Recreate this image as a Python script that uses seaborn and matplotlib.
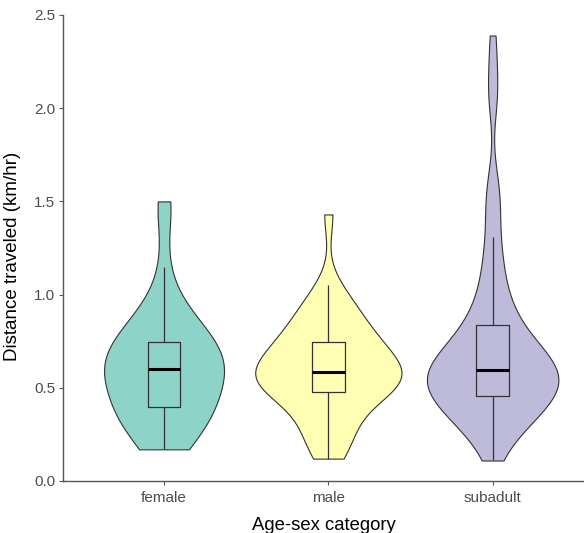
import numpy as np
import pandas as pd
import matplotlib
matplotlib.use("Agg")
import matplotlib.pyplot as plt
import seaborn as sns

categories = ["female", "male", "subadult"]
colors = ["#8DD3C7", "#FFFFB3", "#BEBADA"]

female = [0.17, 0.18, 0.21, 0.25, 0.28, 0.31, 0.33, 0.35, 0.37, 0.39,
          0.40, 0.42, 0.44, 0.46, 0.49, 0.52, 0.54, 0.56, 0.58, 0.60,
          0.60, 0.61, 0.62, 0.64, 0.66, 0.68, 0.70, 0.72, 0.73, 0.74,
          0.76, 0.79, 0.82, 0.85, 0.88, 0.92, 0.97, 1.15, 1.45, 1.50]
male = [0.12, 0.16, 0.21, 0.25, 0.29, 0.33, 0.37, 0.41, 0.44, 0.47,
        0.48, 0.49, 0.51, 0.52, 0.53, 0.54, 0.55, 0.56, 0.57, 0.58,
        0.59, 0.60, 0.62, 0.64, 0.66, 0.68, 0.70, 0.71, 0.73, 0.74,
        0.76, 0.79, 0.82, 0.85, 0.88, 0.91, 0.94, 0.98, 1.05, 1.43]
subadult = [0.11, 0.17, 0.22, 0.25, 0.27, 0.29, 0.31, 0.32, 0.33, 0.35,
            0.36, 0.37, 0.38, 0.39, 0.40, 0.41, 0.42, 0.43, 0.44, 0.45,
            0.46, 0.47, 0.47, 0.48, 0.49, 0.50, 0.50, 0.51, 0.52, 0.53,
            0.53, 0.54, 0.55, 0.56, 0.56, 0.57, 0.58, 0.58, 0.59, 0.59,
            0.60, 0.61, 0.62, 0.63, 0.63, 0.64, 0.65, 0.66, 0.67, 0.68,
            0.69, 0.70, 0.72, 0.73, 0.74, 0.75, 0.77, 0.79, 0.81, 0.83,
            0.85, 0.87, 0.89, 0.92, 0.96, 0.99, 1.03, 1.08, 1.13, 1.18,
            1.24, 1.31, 1.42, 1.48, 1.55, 1.62, 2.04, 2.09, 2.24, 2.39]
values = {"female": female, "male": male, "subadult": subadult}

yticks = [0.0, 0.5, 1.0, 1.5, 2.0, 2.5]
ytick_labels = ["0.0", "0.5", "1.0", "1.5", "2.0", "2.5"]

# styling: violin widths (fraction of category spacing) and kernel smoothing
vwidths = {"female": 0.73, "male": 0.89, "subadult": 0.80}
bw_adj = {"female": 1.3, "male": 1.3, "subadult": 1.25}


def nrd0(kde):
    # R's default bandwidth rule (bw.nrd0), expressed as a factor of the sample sd
    x = np.asarray(kde.dataset).ravel()
    sd = np.std(x, ddof=1)
    q75, q25 = np.percentile(x, [75, 25])
    lo = min(sd, (q75 - q25) / 1.34)
    bw = 0.9 * lo * len(x) ** (-0.2)
    return bw / sd


sns.set_style("white")
plt.rcParams["font.family"] = ["Liberation Sans", "DejaVu Sans"]

fig = plt.figure(figsize=(5.84, 5.33), dpi=100)
W, H = 584, 533
ax = fig.add_axes([63 / W, 1 - 481 / H, (584 - 63) / W, (481 - 15) / H])

for cat, col in zip(categories, colors):
    v = values[cat]
    sns.violinplot(x=[cat] * len(v), y=v, order=categories, color=col,
                   cut=0, density_norm="width", width=vwidths[cat], inner=None,
                   bw_method=nrd0, bw_adjust=bw_adj[cat], gridsize=512,
                   linewidth=0.8, linecolor="#333333", saturation=1, ax=ax)

df = pd.DataFrame({
    "cat": sum([[c] * len(values[c]) for c in categories], []),
    "dist": female + male + subadult,
})
sns.boxplot(data=df, x="cat", y="dist", order=categories, width=0.2, showfliers=False,
            showcaps=False, fill=False, color="#333333", linewidth=0.9, whis=1.5,
            medianprops=dict(color="black", linewidth=2.2), ax=ax)

ax.set_xlim(-0.615, 2.556)
ax.set_ylim(0, 2.5)
ax.set_yticks(yticks)
ax.set_yticklabels(ytick_labels)
ax.set_xlabel("Age-sex category", fontsize=13.3, color="black", labelpad=9)
ax.set_ylabel("Distance traveled (km/hr)", fontsize=13.5, color="black")
ax.yaxis.set_label_coords(-0.0807, 0.483)
ax.tick_params(axis="both", colors="#555555", labelcolor="#4D4D4D", labelsize=11,
               length=3, width=0.8, left=True, bottom=True, pad=2.5)
ax.tick_params(axis="x", pad=4)
for s in ["top", "right"]:
    ax.spines[s].set_visible(False)
for s in ["left", "bottom"]:
    ax.spines[s].set_color("#555555")
    ax.spines[s].set_linewidth(1.0)

fig.savefig("out.png", dpi=100, facecolor="white")
